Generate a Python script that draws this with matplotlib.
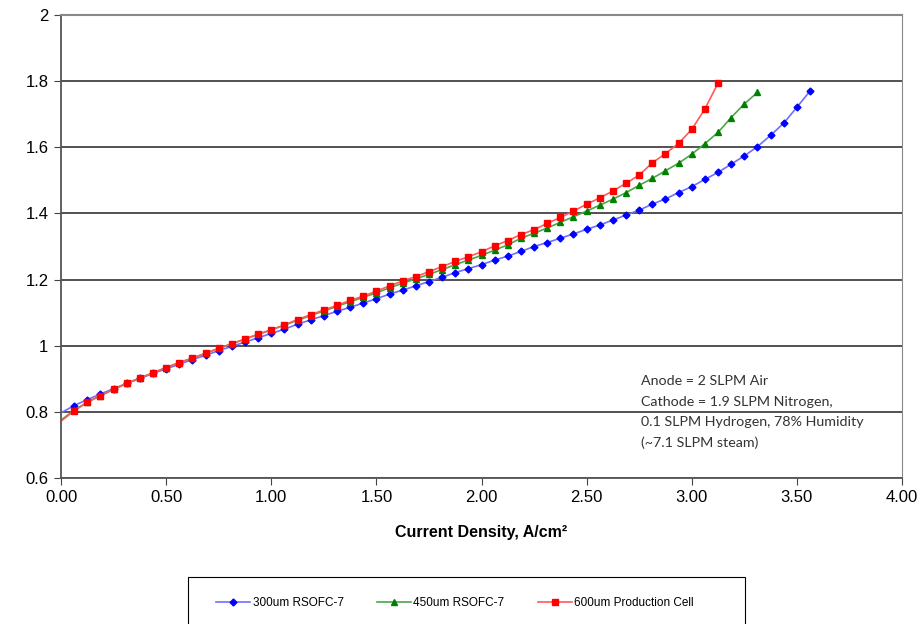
import matplotlib
matplotlib.use('Agg')
import matplotlib.pyplot as plt
from matplotlib.patches import Rectangle

# current density steps (A/cm2)
current = [0.0, 0.0625, 0.125, 0.1875, 0.25, 0.3125, 0.375, 0.4375, 0.5, 0.5625,
           0.625, 0.6875, 0.75, 0.8125, 0.875, 0.9375, 1.0, 1.0625, 1.125, 1.1875,
           1.25, 1.3125, 1.375, 1.4375, 1.5, 1.5625, 1.625, 1.6875, 1.75, 1.8125,
           1.875, 1.9375, 2.0, 2.0625, 2.125, 2.1875, 2.25, 2.3125, 2.375, 2.4375,
           2.5, 2.5625, 2.625, 2.6875, 2.75, 2.8125, 2.875, 2.9375, 3.0, 3.0625,
           3.125, 3.1875, 3.25, 3.3125, 3.375, 3.4375, 3.5, 3.5625]

v_300 = [0.797, 0.819, 0.837, 0.854, 0.870, 0.886, 0.901, 0.916, 0.930, 0.944,
         0.958, 0.971, 0.985, 0.998, 1.011, 1.024, 1.037, 1.050, 1.065, 1.078,
         1.091, 1.104, 1.116, 1.129, 1.142, 1.156, 1.168, 1.181, 1.194, 1.207,
         1.221, 1.233, 1.245, 1.259, 1.271, 1.285, 1.300, 1.312, 1.325, 1.338,
         1.352, 1.365, 1.380, 1.395, 1.410, 1.428, 1.444, 1.463, 1.481, 1.503,
         1.524, 1.549, 1.574, 1.602, 1.636, 1.673, 1.721, 1.770]

v_450 = [0.775, 0.805, 0.829, 0.849, 0.868, 0.886, 0.902, 0.918, 0.934, 0.949,
         0.963, 0.977, 0.992, 1.006, 1.020, 1.034, 1.048, 1.062, 1.077, 1.091,
         1.105, 1.119, 1.133, 1.146, 1.160, 1.175, 1.189, 1.202, 1.216, 1.230,
         1.245, 1.259, 1.273, 1.289, 1.305, 1.325, 1.340, 1.356, 1.373, 1.390,
         1.407, 1.425, 1.443, 1.463, 1.485, 1.506, 1.529, 1.552, 1.579, 1.611,
         1.645, 1.690, 1.731, 1.766]

v_600 = [0.772, 0.803, 0.829, 0.849, 0.868, 0.886, 0.902, 0.918, 0.934, 0.949,
         0.962, 0.977, 0.992, 1.006, 1.020, 1.035, 1.048, 1.063, 1.079, 1.094,
         1.108, 1.122, 1.137, 1.150, 1.165, 1.181, 1.196, 1.209, 1.224, 1.239,
         1.255, 1.269, 1.284, 1.302, 1.318, 1.336, 1.351, 1.370, 1.388, 1.407,
         1.428, 1.447, 1.468, 1.491, 1.516, 1.553, 1.581, 1.612, 1.654, 1.716,
         1.794]

labels = ['300um RSOFC-7', '450um RSOFC-7', '600um Production Cell']
notes = ['Anode = 2 SLPM Air', 'Cathode = 1.9 SLPM Nitrogen,',
         '0.1 SLPM Hydrogen, 78% Humidity', '(~7.1 SLPM steam)']

plt.rcParams['font.family'] = ['Liberation Sans', 'DejaVu Sans']

fig = plt.figure(figsize=(9.23, 6.24), dpi=100)
ax = fig.add_axes([61 / 923, 146 / 624, 841 / 923, 463 / 624])

ax.plot(current[:len(v_300)], v_300, color='#6f6fff', lw=1.2, marker='D', ms=3.5,
        mfc='#0000ff', mec='#0000ff', markevery=slice(1, None), label=labels[0])
ax.plot(current[:len(v_450)], v_450, color='#4ca64c', lw=1.2, marker='^', ms=5,
        mfc='#008000', mec='#008000', markevery=slice(1, None), label=labels[1])
ax.plot(current[:len(v_600)], v_600, color='#ff5a5a', lw=1.2, marker='s', ms=5,
        mfc='#ff0000', mec='#ff0000', markevery=slice(1, None), label=labels[2])

ax.set_xlim(0, 4)
ax.set_ylim(0.6, 2)
ax.set_xticks([i * 0.5 for i in range(9)])
ax.set_xticklabels(['%.2f' % (i * 0.5) for i in range(9)], fontsize=12)
ax.set_yticks([0.6, 0.8, 1.0, 1.2, 1.4, 1.6, 1.8, 2.0])
ax.set_yticklabels(['0.6', '0.8', '1', '1.2', '1.4', '1.6', '1.8', '2'], fontsize=12)
ax.tick_params(direction='out', length=5, color='#444444', pad=4)
ax.yaxis.grid(True, color='#333333', lw=1.2)
ax.set_axisbelow(True)
for s in ['left', 'bottom']:
    ax.spines[s].set_color('#555555')
    ax.spines[s].set_linewidth(1.3)
ax.spines['right'].set_color('#888888')
ax.spines['top'].set_color('#888888')
ax.spines['top'].set_linewidth(1.5)

ax.set_xlabel('Current Density, A/cm²', fontsize=11.5, fontweight='bold', labelpad=14)

ax.text(2.76, 0.91, '\n'.join(notes), fontsize=10.3, color='#333333', va='top',
        ha='left', linespacing=1.83, family=['Lato', 'DejaVu Sans'])

# legend box, cut by the bottom edge like the reference
fig.patches.append(Rectangle((188 / 923, -0.02), 557 / 923, 47 / 624 + 0.02,
                             transform=fig.transFigure, fill=False,
                             edgecolor='black', lw=0.8))
fig.legend(loc='center', bbox_to_anchor=(455 / 923, 1 - 603 / 624), ncol=3,
           fontsize=8.5, frameon=False, handlelength=2.9, handletextpad=0.2,
           columnspacing=2.8)

fig.savefig('out.png', dpi=100)
